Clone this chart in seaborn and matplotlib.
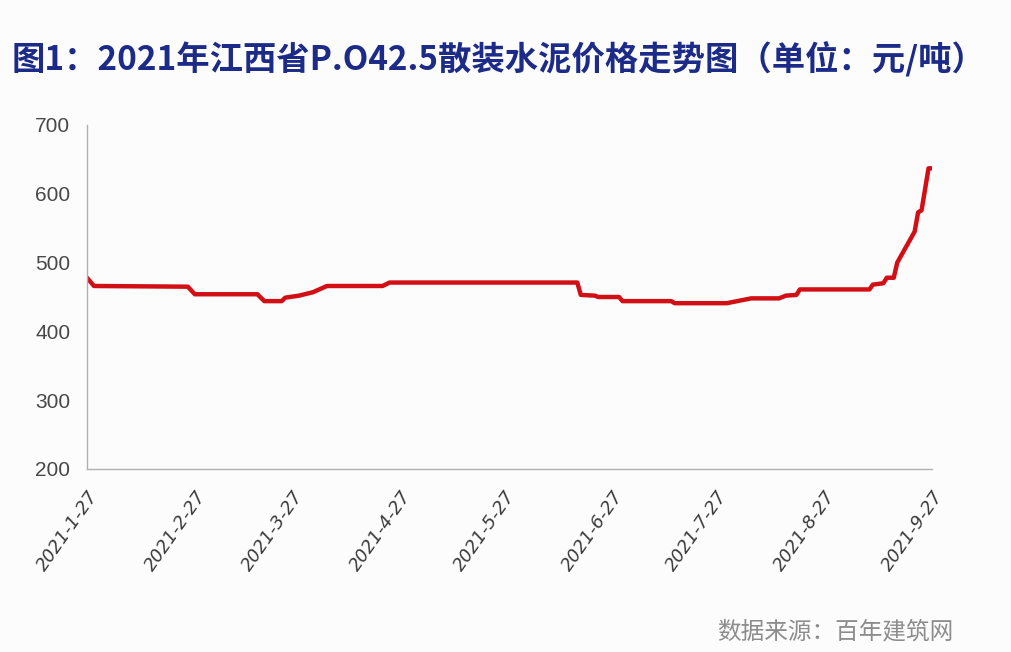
import pandas as pd
import matplotlib
matplotlib.use("Agg")
import matplotlib.pyplot as plt
import seaborn as sns

# price series (元/吨)
dates = ["2021-01-27", "2021-01-29", "2021-02-25", "2021-02-27", "2021-03-17",
         "2021-03-19", "2021-03-24", "2021-03-25", "2021-03-29", "2021-04-02",
         "2021-04-06", "2021-04-22", "2021-04-24", "2021-06-17", "2021-06-18",
         "2021-06-22", "2021-06-23", "2021-06-29", "2021-06-30", "2021-07-14",
         "2021-07-15", "2021-07-30", "2021-08-04", "2021-08-06", "2021-08-14",
         "2021-08-16", "2021-08-19", "2021-08-20", "2021-09-09", "2021-09-10",
         "2021-09-13", "2021-09-14", "2021-09-16", "2021-09-17", "2021-09-22",
         "2021-09-23", "2021-09-24", "2021-09-26", "2021-09-27"]
prices = [478, 466, 465, 454, 454,
          444, 444, 449, 452, 457,
          466, 466, 471, 471, 453,
          452, 450, 450, 444, 444,
          441, 441, 446, 448, 448,
          452, 453, 461, 461, 468,
          470, 478, 478, 500, 545,
          573, 576, 637, 637]

tick_dates = ["2021-01-27", "2021-02-27", "2021-03-27", "2021-04-27", "2021-05-27",
              "2021-06-27", "2021-07-27", "2021-08-27", "2021-09-27"]
tick_labels = ["2021-1-27", "2021-2-27", "2021-3-27", "2021-4-27", "2021-5-27",
               "2021-6-27", "2021-7-27", "2021-8-27", "2021-9-27"]
y_ticks = [200, 300, 400, 500, 600, 700]

title = "图1：2021年江西省P.O42.5散装水泥价格走势图（单位：元/吨）"
source = "数据来源：百年建筑网"

df = pd.DataFrame({"date": pd.to_datetime(dates), "price": prices})

sns.set_style("white")
plt.rcParams["font.family"] = ["Noto Sans CJK SC", "DejaVu Sans"]

bg = "#fcfcfd"
fig = plt.figure(figsize=(10.12, 6.52), dpi=100, facecolor=bg)
ax = fig.add_axes([87 / 1012, 1 - 469 / 652, 845 / 1012, 344 / 652])
ax.set_facecolor(bg)

sns.lineplot(data=df, x="date", y="price", ax=ax, color="#d10f14", linewidth=3.2)

ax.set_xlim(pd.Timestamp(tick_dates[0]), pd.Timestamp(tick_dates[-1]))
ax.set_ylim(200, 700)
ax.set_yticks(y_ticks)
ax.set_xticks(pd.to_datetime(tick_dates))
ax.set_xticklabels(tick_labels, rotation=55, ha="right", rotation_mode="anchor",
                   fontsize=13, color="#3a3a3a", family=["DejaVu Sans"], style="italic")
ax.set_yticklabels([str(v) for v in y_ticks], fontsize=15, color="#484848",
                   family=["Liberation Sans", "DejaVu Sans"])
ax.set_xlabel("")
ax.set_ylabel("")

for s in ["top", "right"]:
    ax.spines[s].set_visible(False)
for s in ["left", "bottom"]:
    ax.spines[s].set_color("#b0b0b0")
    ax.spines[s].set_linewidth(1.0)
ax.tick_params(axis="both", direction="out", length=7, width=1.0, color="#b0b0b0")
ax.tick_params(axis="x", pad=6)
ax.tick_params(axis="y", pad=5)

fig.text(12 / 1012, 1 - 60 / 652, title, fontsize=24, fontweight="bold",
         color="#1c2b88", va="center", ha="left")
fig.text(717 / 1012, 1 - 632 / 652, source, fontsize=17, color="#8c8c8c",
         va="center", ha="left", fontweight="light")

fig.savefig("out.png", dpi=100, facecolor=bg)
